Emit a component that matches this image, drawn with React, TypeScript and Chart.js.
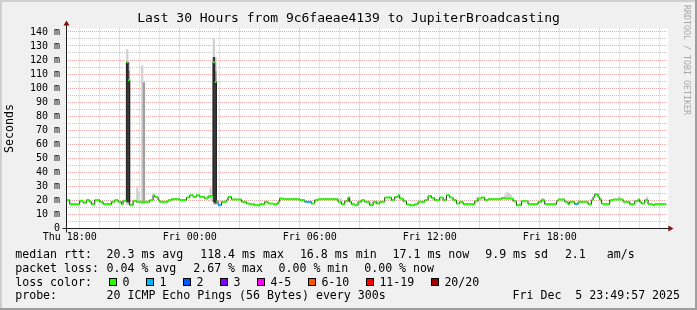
import React, { useEffect, useRef } from "react";
import { Chart, registerables } from "chart.js";

Chart.register(...registerables);

// ---------- texts ----------
const TITLE = "Last 30 Hours from 9c6faeae4139 to JupiterBroadcasting";
const Y_AXIS_TITLE = "Seconds";
const WATERMARK = "RRDTOOL / TOBI OETIKER";

// ---------- axes (minutes since Thu 18:00) ----------
const xRange = [-10, 1790];
const xTickMinutes = [0, 360, 720, 1080, 1440];
const xTickLabels = ["Thu 18:00", "Fri 00:00", "Fri 06:00", "Fri 12:00", "Fri 18:00"];
const yRange = [0, 142.45];
const yTickValues = [0, 10, 20, 30, 40, 50, 60, 70, 80, 90, 100, 110, 120, 130, 140];
const yTickLabels = ["0", "10 m", "20 m", "30 m", "40 m", "50 m", "60 m", "70 m", "80 m", "90 m", "100 m", "110 m", "120 m", "130 m", "140 m"];

// ---------- median rtt (ms), step starts in minutes since Thu 18:00 ----------
const medianTimes = [
  -10, 0, 30, 40, 50, 60, 65, 75, 90, 100,
  125, 135, 145, 155, 160, 170, 175, 180, 190, 200,
  240, 250, 255, 265, 270, 295, 305, 330, 350, 360,
  370, 380, 390, 405, 415, 430, 435, 440, 445, 455,
  470, 475, 485, 515, 530, 540, 555, 570, 585, 595,
  610, 625, 630, 640, 690, 705, 725, 735, 745, 805,
  815, 825, 835, 840, 845, 855, 865, 875, 885, 900,
  910, 920, 930, 945, 965, 975, 985, 990, 1000, 1010,
  1020, 1035, 1045, 1065, 1075, 1085, 1095, 1110, 1120, 1130,
  1140, 1150, 1160, 1170, 1180, 1215, 1225, 1235, 1245, 1255,
  1295, 1305, 1330, 1340, 1355, 1375, 1405, 1415, 1425, 1460,
  1465, 1485, 1495, 1500, 1515, 1525, 1555, 1565, 1570, 1575,
  1585, 1590, 1595, 1600, 1620, 1630, 1660, 1680, 1695, 1705,
  1710, 1715, 1725, 1735, 1750, 1755, 1790,
];
const medianValues = [
  20.2, 17.3, 19.7, 18.3, 20.2, 19.0, 17.3, 20.2, 19.0, 17.3,
  19.0, 20.2, 19.0, 17.3, 19.7, 118.4, 105.6, 16.6, 19.7, 19.0,
  20.2, 23.7, 22.5, 20.2, 19.0, 20.2, 20.9, 20.2, 22.1, 23.7,
  22.5, 23.7, 22.5, 21.4, 23.0, 118.4, 104.4, 19.4, 16.6, 19.0,
  20.2, 22.5, 20.7, 19.0, 17.8, 17.3, 16.6, 17.3, 19.0, 17.8,
  17.3, 19.0, 21.4, 20.9, 20.2, 19.0, 17.8, 20.2, 20.9, 19.0,
  17.3, 19.4, 22.1, 19.0, 17.3, 16.6, 19.0, 20.2, 19.0, 16.6,
  19.0, 17.8, 19.0, 22.1, 20.2, 22.5, 23.7, 21.4, 19.4, 17.1,
  16.6, 17.3, 19.0, 20.2, 23.2, 21.8, 20.2, 22.1, 20.2, 23.7,
  22.1, 20.2, 17.8, 19.0, 17.3, 19.4, 21.4, 22.1, 20.2, 20.9,
  21.8, 21.4, 19.4, 16.6, 19.4, 17.3, 19.0, 20.2, 17.3, 19.4,
  20.7, 19.0, 17.3, 19.0, 17.3, 19.0, 17.3, 20.2, 22.5, 24.4,
  22.5, 20.7, 17.8, 17.3, 20.2, 20.7, 19.0, 17.3, 19.4, 20.7,
  19.0, 17.8, 20.2, 17.3, 16.6, 17.3, 17.3,
];

// steps with lost pings (minutes) and how many of 20 were lost
const lossTimes = [445, 705, 1515];
const lossCounts = [1, 1, 1];

// ---------- smoke (ping spread, ms) per 5-minute interval start ----------
const smokeTimes = [170, 175, 200, 205, 215, 220, 420, 430, 435, 810, 835, 920, 955, 1050, 1220, 1305, 1310, 1315, 1320, 1415, 1475, 1645, 1650, 1730];
const smokeMin = [17, 17, 19, 19, 18, 18, 20, 17, 17, 19, 19, 17.8, 21, 19, 20, 21, 21, 21, 21, 19, 19, 20.5, 20.5, 20];
const smokeMax = [127.5, 118, 29, 26, 116, 104, 29, 135, 122, 21.5, 22.5, 19.8, 23, 20.5, 22.5, 24, 26, 25, 24, 21.5, 21, 22.5, 22, 22.5];
const smokeMidLo = [null, 18, null, null, null, 18, null, null, 18, null, null, null, null, null, null, null, null, null, null, null, null, null, null, null];
const smokeMidHi = [null, 112, null, null, null, 104, null, null, 112, null, null, null, null, null, null, null, null, null, null, null, null, null, null, null];
const smokeCoreLo = [19, 19, null, null, null, null, null, 19, 18, null, null, null, null, null, null, null, null, null, null, null, null, null, null, null];
const smokeCoreHi = [118.4, 105.6, null, null, null, null, null, 122, 104.4, null, null, null, null, null, null, null, null, null, null, null, null, null, null, null];

// ---------- legend ----------
const rttLabel = "median rtt:";
const rttStats = ["20.3 ms avg", "118.4 ms max", "16.8 ms min", "17.1 ms now", "9.9 ms sd", "2.1   am/s"];
const lossLabel = "packet loss:";
const lossStats = ["0.04 % avg", "2.67 % max", "0.00 % min", "0.00 % now"];
const lossColorLabel = "loss color:";
const lossBuckets = ["0", "1", "2", "3", "4-5", "6-10", "11-19", "20/20"];
const lossBucketMax = [0, 1, 2, 3, 5, 10, 19, 20];
const lossColors = ["#26ff00", "#00b8ff", "#0059ff", "#7e00ff", "#ff00ff", "#ff5500", "#ff0000", "#a10000"];
const probeLabel = "probe:";
const probeText = "20 ICMP Echo Pings (56 Bytes) every 300s";
const stampText = "Fri Dec  5 23:49:57 2025";

// ---------- layout / style ----------
const W = 697;
const H = 310;
const PLOT = { left: 66.4, right: 666.4, top: 28.5, bottom: 228.5 };
const MONO = "'DejaVu Sans Mono', monospace";
const GRID = "rgba(143,143,143,0.5)";
const MGRID = "rgba(222,80,80,0.5)";
const rowBaselines = [258.3, 271.7, 285.6, 299];
const labelX = 16;
const rttX = [107.3, 201, 300.7, 393.3, 486, 565.7];
const lossX = [107.3, 194, 279.3, 365];
const probeX = 107.3;
const stampX = 513.3;
const boxStartX = 108.7;

function bucketColor(count: number) {
  for (let k = 0; k < lossBucketMax.length; k++) {
    if (count <= lossBucketMax[k]) return lossColors[k];
  }
  return lossColors[lossColors.length - 1];
}

const rrdFrame = {
  id: "rrdFrame",
  beforeDraw(chart: any) {
    const { ctx, chartArea: a } = chart;
    ctx.save();
    ctx.fillStyle = "#F0F0F0";
    ctx.fillRect(0, 0, W, H);
    ctx.fillStyle = "#CFCFCF";
    ctx.fillRect(0, 0, W, 2);
    ctx.fillRect(0, 0, 2, H);
    ctx.fillStyle = "#9E9E9E";
    ctx.fillRect(0, H - 2, W, 2);
    ctx.fillRect(W - 2, 0, 2, H);
    ctx.fillStyle = "#FFFFFF";
    ctx.fillRect(a.left, a.top, a.right - a.left + 2, a.bottom - a.top);
    ctx.restore();
  },
  afterDatasetsDraw(chart: any) {
    const { ctx, chartArea: a } = chart;
    const x0 = Math.floor(a.left) + 0.5;
    const y0 = Math.floor(a.bottom) + 0.5;
    ctx.save();
    ctx.strokeStyle = "#1F1F1F";
    ctx.lineWidth = 1;
    ctx.beginPath();
    ctx.moveTo(x0 - 4, y0);
    ctx.lineTo(a.right + 4, y0);
    ctx.moveTo(x0, y0 + 4);
    ctx.lineTo(x0, a.top - 4);
    ctx.stroke();
    ctx.fillStyle = "#7F1010";
    ctx.beginPath();
    ctx.moveTo(a.right + 2, y0 - 3);
    ctx.lineTo(a.right + 7, y0);
    ctx.lineTo(a.right + 2, y0 + 3);
    ctx.closePath();
    ctx.fill();
    ctx.beginPath();
    ctx.moveTo(x0 - 3, a.top - 3);
    ctx.lineTo(x0, a.top - 8);
    ctx.lineTo(x0 + 3, a.top - 3);
    ctx.closePath();
    ctx.fill();
    ctx.restore();
  },
};

export default function App() {
  const ref = useRef<HTMLCanvasElement>(null);

  useEffect(() => {
    const canvas = ref.current;
    if (!canvas) return;

    const stepPts = medianTimes.map((t, i) => ({ x: t, y: medianValues[i] }));
    const bandPts: { x: number; y: number }[] = [];
    for (let i = 0; i < medianTimes.length - 1; i++) {
      bandPts.push({ x: medianTimes[i], y: medianValues[i] });
      bandPts.push({ x: medianTimes[i + 1], y: medianValues[i] });
    }
    const lossAt = (t: number) => {
      const k = lossTimes.indexOf(t);
      return k < 0 ? 0 : lossCounts[k];
    };
    const pxPerMin = (PLOT.right - PLOT.left) / (xRange[1] - xRange[0]);
    const barPx = pxPerMin * 5;
    const bars = (lo: (number | null)[], hi: (number | null)[]) =>
      smokeTimes
        .map((t, i) => (lo[i] == null || hi[i] == null ? null : { x: t + 2.5, y: [lo[i], hi[i]] }))
        .filter((p) => p !== null);

    const chart = new Chart(canvas, {
      type: "line",
      data: {
        datasets: [
          {
            type: "line",
            label: "median",
            data: bandPts,
            borderWidth: 2,
            pointRadius: 0,
            fill: false,
            order: 0,
            borderColor: lossColors[0],
            segment: {
              borderColor: (c: any) =>
                c.p0DataIndex % 2 === 1
                  ? "rgba(0,0,0,0)"
                  : bucketColor(lossAt(medianTimes[Math.floor(c.p0DataIndex / 2)])),
            },
          } as any,
          {
            type: "line",
            label: "median line",
            data: stepPts,
            stepped: true,
            borderColor: "#202020",
            borderWidth: 1,
            pointRadius: 0,
            fill: false,
            order: 1,
          } as any,
          {
            type: "bar",
            label: "smoke core",
            data: bars(smokeCoreLo, smokeCoreHi),
            backgroundColor: "#3a3a3a",
            borderWidth: 0,
            barThickness: barPx,
            grouped: false,
            order: 2,
          } as any,
          {
            type: "bar",
            label: "smoke mid",
            data: bars(smokeMidLo, smokeMidHi),
            backgroundColor: "#a0a0a0",
            borderWidth: 0,
            barThickness: barPx,
            grouped: false,
            order: 3,
          } as any,
          {
            type: "bar",
            label: "smoke",
            data: bars(smokeMin, smokeMax),
            backgroundColor: "#d2d2d2",
            borderWidth: 0,
            barThickness: barPx,
            grouped: false,
            order: 4,
          } as any,
        ],
      },
      options: {
        animation: false,
        responsive: false,
        devicePixelRatio: 1,
        events: [],
        layout: { padding: 0 },
        plugins: {
          legend: { display: false },
          tooltip: { enabled: false },
          title: {
            display: true,
            text: TITLE,
            color: "#000",
            font: { family: MONO, size: 13, weight: "normal" },
            padding: { top: 11, bottom: 1.9 },
          },
        },
        scales: {
          x: {
            type: "linear",
            min: xRange[0],
            max: xRange[1],
            offset: false,
            afterBuildTicks: (s: any) => {
              const t: { value: number }[] = [];
              for (let m = 0; m <= xRange[1]; m += 60) t.push({ value: m });
              s.ticks = t;
            },
            afterFit: (s: any) => {
              s.height = H - PLOT.bottom;
            },
            grid: {
              color: (c: any) => (c.tick && c.tick.value % 180 === 0 ? MGRID : GRID),
              lineWidth: 1,
              drawTicks: false,
            },
            border: { display: false, dash: [1, 1] },
            ticks: {
              autoSkip: false,
              maxRotation: 0,
              minRotation: 0,
              padding: 2.7,
              color: "#000",
              font: { family: MONO, size: 10 },
              callback: (v: any) => {
                const k = xTickMinutes.indexOf(Number(v));
                return k < 0 ? "" : xTickLabels[k];
              },
            },
          },
          y: {
            type: "linear",
            position: "left",
            min: yRange[0],
            max: yRange[1],
            afterBuildTicks: (s: any) => {
              const t: { value: number }[] = [];
              for (let v = 0; v <= 140; v += 5) t.push({ value: v });
              s.ticks = t;
            },
            afterFit: (s: any) => {
              s.width = PLOT.left;
            },
            grid: {
              color: (c: any) => (c.tick && c.tick.value % 10 === 0 ? MGRID : GRID),
              lineWidth: 1,
              drawTicks: false,
            },
            border: { display: false, dash: [1, 1] },
            ticks: {
              autoSkip: false,
              padding: PLOT.left - 60,
              color: "#000",
              font: { family: MONO, size: 10 },
              callback: (v: any) => {
                const k = yTickValues.indexOf(Number(v));
                return k < 0 ? "" : yTickLabels[k];
              },
            },
            title: {
              display: true,
              text: Y_AXIS_TITLE,
              color: "#000",
              font: { family: MONO, size: 11.6 },
              padding: { top: 3.3, bottom: 0 },
            },
          },
          y2: {
            type: "linear",
            position: "right",
            display: true,
            afterFit: (s: any) => {
              s.width = W - PLOT.right;
            },
            grid: { display: false },
            ticks: { display: false },
            border: { display: false },
          },
        },
      } as any,
      plugins: [rrdFrame],
    });
    return () => chart.destroy();
  }, []);

  const textStyle = (x: number, baseline: number): React.CSSProperties => ({
    position: "absolute",
    left: x - 0.8,
    top: baseline - 11,
    fontFamily: MONO,
    fontSize: "11.6px",
    lineHeight: "14px",
    whiteSpace: "pre",
    color: "#000",
  });

  const boxXs: number[] = [];
  let bx = boxStartX;
  lossBuckets.forEach((b) => {
    boxXs.push(bx);
    bx += 37 + (b.length - 1) * 7;
  });

  return (
    <div style={{ position: "fixed", left: 0, top: 0, width: W, height: H, overflow: "hidden" }}>
      <canvas ref={ref} width={W} height={H} style={{ position: "absolute", left: 0, top: 0, width: W, height: H }} />
      <div
        style={{
          position: "absolute",
          left: 682,
          top: 5,
          writingMode: "vertical-rl",
          fontFamily: MONO,
          fontSize: "8.3px",
          lineHeight: "10px",
          color: "#a8a8a8",
          whiteSpace: "pre",
        }}
      >
        {WATERMARK}
      </div>
      <div style={textStyle(labelX, rowBaselines[0])}>{rttLabel}</div>
      {rttStats.map((s, i) => (
        <div key={"r" + i} style={textStyle(rttX[i], rowBaselines[0])}>{s}</div>
      ))}
      <div style={textStyle(labelX, rowBaselines[1])}>{lossLabel}</div>
      {lossStats.map((s, i) => (
        <div key={"l" + i} style={textStyle(lossX[i], rowBaselines[1])}>{s}</div>
      ))}
      <div style={textStyle(labelX, rowBaselines[2])}>{lossColorLabel}</div>
      {lossBuckets.map((b, i) => (
        <React.Fragment key={"b" + i}>
          <div
            style={{
              position: "absolute",
              left: boxXs[i],
              top: rowBaselines[2] - 7.6,
              width: 8,
              height: 8,
              boxSizing: "border-box",
              border: "1px solid #000",
              background: lossColors[i],
            }}
          />
          <div style={textStyle(boxXs[i] + 14.5, rowBaselines[2])}>{b}</div>
        </React.Fragment>
      ))}
      <div style={textStyle(labelX, rowBaselines[3])}>{probeLabel}</div>
      <div style={textStyle(probeX, rowBaselines[3])}>{probeText}</div>
      <div style={textStyle(stampX, rowBaselines[3])}>{stampText}</div>
    </div>
  );
}
